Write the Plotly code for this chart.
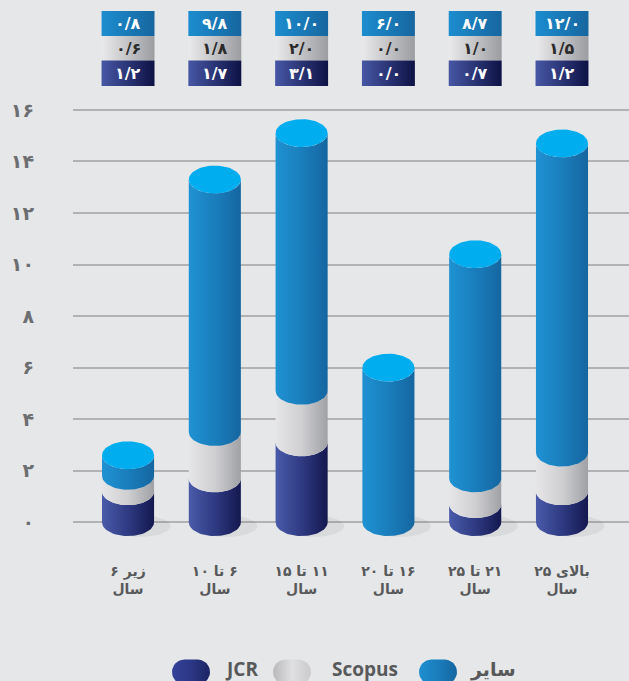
import numpy as np
import plotly.graph_objects as go

# ---------------- data ----------------
cat_line1 = ["زیر ۶", "۶ تا ۱۰", "۱۱ تا ۱۵", "۱۶ تا ۲۰", "۲۱ تا ۲۵", "بالای ۲۵"]
cat_line2 = ["سال", "سال", "سال", "سال", "سال", "سال"]
series_names = ["JCR", "Scopus", "سایر"]
jcr = [1.2, 1.7, 3.1, 0.0, 0.7, 1.2]
scopus = [0.6, 1.8, 2.0, 0.0, 1.0, 1.5]
sayer = [0.8, 9.8, 10.0, 6.0, 8.7, 12.0]
y_tick_vals = [0, 2, 4, 6, 8, 10, 12, 14, 16]

# ---------------- style ----------------
W, H = 629, 681
BG = "#E6E7E8"
FA_FONT = "DejaVu Sans"
LAT_FONT = "Open Sans"
GRID = "#B2B2B4"
TICK_COL = "#6D6E71"
LABEL_COL = "#58595B"
BAR_W = 0.6
RY = 0.54  # ellipse half-height in data units
CAP = "#00AEEF"
GRAD = {
    "JCR": ["#4A5BAA", "#2E3A82", "#14184F"],
    "Scopus": ["#E6E6E8", "#CFCFD2", "#A0A1A5"],
    "سایر": ["#1F92D3", "#1A7EBC", "#1566A0"],
}
TAB_GRAD = {
    "JCR": ["#4757A5", "#0E1245"],
    "Scopus": ["#EAEAEC", "#9C9DA1"],
    "سایر": ["#1C8DCF", "#17669F"],
}
TAB_TXT = {"JCR": "white", "Scopus": "#2B2B2B", "سایر": "white"}

FA_DIG = str.maketrans("0123456789", "۰۱۲۳۴۵۶۷۸۹")


def fa_num(v, dec=1):
    s = f"{v:.{dec}f}" if dec else f"{v:d}"
    return s.replace(".", "/").translate(FA_DIG)


RLM = "\u200f"

x_lo, x_hi = -0.634, 5.772
y_lo, y_hi = -1.0, 16.5
plot_top_px, plot_bot_px = 97, 548
ydom = [(H - plot_bot_px) / H, (H - plot_top_px) / H]

fig = go.Figure()

t_low = np.linspace(np.pi, 2 * np.pi, 40)
t_full = np.linspace(0, 2 * np.pi, 80)
rx = BAR_W / 2

# shadows
for i in range(len(cat_line1)):
    sx = i + 0.13 + 0.36 * np.cos(t_full)
    sy = -0.15 + 0.42 * np.sin(t_full)
    fig.add_trace(go.Scatter(x=sx, y=sy, fill="toself", mode="lines", line=dict(width=0),
                             fillcolor="rgba(60,60,70,0.07)", hoverinfo="skip", showlegend=False))

series_vals = {"JCR": jcr, "Scopus": scopus, "سایر": sayer}
caps_x, caps_y = [], []
for i in range(len(cat_line1)):
    base = 0.0
    for name in series_names:
        v = series_vals[name][i]
        if v <= 0:
            continue
        top = base + v
        xs = list(i + rx * np.cos(t_low)) + list(i + rx * np.cos(t_low[::-1]))
        ys = list(base + RY * np.sin(t_low)) + list(top + RY * np.sin(t_low[::-1]))
        cols = GRAD[name]
        fig.add_trace(go.Scatter(
            x=xs, y=ys, fill="toself", mode="lines", line=dict(width=0),
            fillgradient=dict(type="horizontal",
                              colorscale=[[0, cols[0]], [0.5, cols[1]], [1, cols[2]]]),
            hoverinfo="skip", showlegend=False))
        base = top
    caps_x += list(i + rx * np.cos(t_full)) + [None]
    caps_y += list(base + RY * np.sin(t_full)) + [None]

fig.add_trace(go.Scatter(x=caps_x, y=caps_y, fill="toself", mode="lines", line=dict(width=0),
                         fillcolor=CAP, hoverinfo="skip", showlegend=False))

# ---------------- value table (top) ----------------
rows_px = {"سایر": (11, 36), "Scopus": (36, 60.5), "JCR": (60.5, 86)}
tab_half = 0.305
annotations = []
for i in range(len(cat_line1)):
    for name in ["سایر", "Scopus", "JCR"]:
        r0, r1 = rows_px[name]
        fig.add_trace(go.Scatter(
            x=[i - tab_half, i + tab_half, i + tab_half, i - tab_half, i - tab_half],
            y=[r0, r0, r1, r1, r0], xaxis="x", yaxis="y3",
            fill="toself", mode="lines", line=dict(width=0),
            fillgradient=dict(type="horizontal",
                              colorscale=[[0, TAB_GRAD[name][0]], [1, TAB_GRAD[name][1]]]),
            hoverinfo="skip", showlegend=False))
        annotations.append(dict(
            x=i, y=(r0 + r1) / 2, xref="x", yref="y3", showarrow=False,
            text=fa_num(series_vals[name][i]),
            font=dict(family=FA_FONT, size=16, color=TAB_TXT[name], weight="bold")))

# ---------------- custom legend (bottom) ----------------
leg_items = [("JCR", 191, 241, ["#34429A", "#2B3785", "#1B2462"], LAT_FONT),
             ("Scopus", 292, 365, ["#B9B9BC", "#E0E0E2", "#CACACC"], LAT_FONT),
             ("سایر", 438, 493, ["#1E8FD0", "#1A7DBC", "#1566A0"], FA_FONT)]
pw, ph, pcy = 38, 25, 672
for name, pcx, tcx, cols, fam in leg_items:
    r = ph / 2
    a1 = np.linspace(np.pi / 2, 3 * np.pi / 2, 20)
    a2 = np.linspace(-np.pi / 2, np.pi / 2, 20)
    lx = list(pcx - pw / 2 + r + r * np.cos(a1)) + list(pcx + pw / 2 - r + r * np.cos(a2))
    ly = list(pcy - r * np.sin(a1)) + list(pcy - r * np.sin(a2))
    lx.append(lx[0]); ly.append(ly[0])
    fig.add_trace(go.Scatter(
        x=lx, y=ly, xaxis="x2", yaxis="y2", fill="toself", mode="lines", line=dict(width=0),
        fillgradient=dict(type="horizontal",
                          colorscale=[[0, cols[0]], [0.5, cols[1]], [1, cols[2]]]),
        hoverinfo="skip", showlegend=False))
    annotations.append(dict(x=tcx, y=669, xref="x2", yref="y2", showarrow=False, text=name,
                            font=dict(family=fam, size=19, color=LABEL_COL, weight="bold")))

fig.update_layout(
    width=W, height=H,
    margin=dict(l=0, r=0, t=0, b=0),
    paper_bgcolor=BG, plot_bgcolor="rgba(0,0,0,0)",
    showlegend=False,
    annotations=annotations,
    xaxis=dict(domain=[73 / W, 1], range=[x_lo, x_hi], showgrid=False, zeroline=False,
               showline=False, ticks="", tickvals=list(range(len(cat_line1))),
               ticktext=[RLM + a + RLM + "<br>" + RLM + b + RLM for a, b in zip(cat_line1, cat_line2)],
               tickfont=dict(family=FA_FONT, size=14, color=LABEL_COL, weight="bold"),
               ticklabelstandoff=13, automargin=False, fixedrange=True),
    yaxis=dict(domain=ydom, range=[y_lo, y_hi], showgrid=True, gridcolor=GRID, gridwidth=1.5,
               zeroline=False, showline=False, ticks="", tickvals=y_tick_vals,
               ticktext=[fa_num(v, 0) for v in y_tick_vals],
               tickfont=dict(family=FA_FONT, size=19, color=TICK_COL, weight="bold"),
               ticklabelstandoff=38, automargin=False, fixedrange=True),
    yaxis3=dict(domain=[ydom[1], 1], range=[plot_top_px, 0], anchor="x", visible=False,
                fixedrange=True),
    xaxis2=dict(domain=[0, 1], range=[0, W], anchor="y2", visible=False, fixedrange=True),
    yaxis2=dict(domain=[0, 1], range=[H, 0], anchor="x2", visible=False, fixedrange=True),
)

fig.write_html("out.html", config={"displayModeBar": False},
               post_script="document.body.style.margin='0';document.body.style.overflow='hidden';document.body.style.background='" + BG + "';")
